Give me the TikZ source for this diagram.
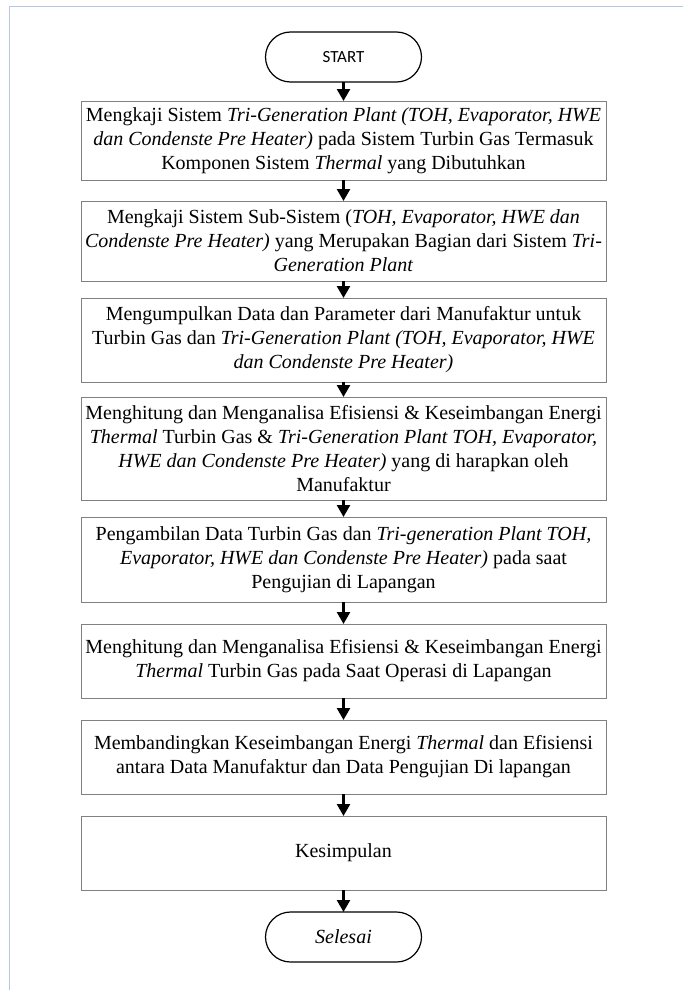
\documentclass[tikz,border=0pt]{standalone}
\usepackage{fontspec}
\setmainfont{Liberation Serif}
\newfontfamily\startfont{Carlito}
\usetikzlibrary{positioning, arrows.meta}
\definecolor{tepibiru}{RGB}{180,199,231}

\begin{document}
\begin{tikzpicture}[
  x=1pt, y=1pt,
  langkah/.style={draw=black!50, line width=0.9pt, align=center, minimum width=525pt,
    inner sep=0pt, outer sep=0pt, font=\fontsize{20}{24}\selectfont},
  ujung/.style={draw, line width=1.2pt, rounded corners=25pt, outer sep=0pt,
    minimum width=156pt, minimum height=50pt, inner sep=0pt},
  panah/.style={-{Triangle[width=13pt,length=12pt]}, line width=2.4pt}] % heights follow the page

  \useasboundingbox (0,0) rectangle (683,-990);
  \draw[tepibiru, line width=1pt] (9.5,-990) -- (9.5,-7) -- (683,-7);

  \node[ujung, font=\startfont\fontsize{17}{17}\selectfont] (start) at (343.5,-57) {START};
  \node[langkah, minimum height=79pt, below=19pt of start] (kaji1)
    {Mengkaji Sistem \textit{Tri-Generation Plant (TOH, Evaporator, HWE}\\
     \textit{dan Condenste Pre Heater)} pada Sistem Turbin Gas Termasuk\\
     Komponen Sistem \textit{Thermal} yang Dibutuhkan};
  \node[langkah, minimum height=80pt, below=21pt of kaji1] (kaji2)
    {Mengkaji Sistem Sub-Sistem (\textit{TOH, Evaporator, HWE dan}\\
     \textit{Condenste Pre Heater)} yang Merupakan Bagian dari Sistem \textit{Tri-}\\
     \textit{Generation Plant}};
  \node[langkah, minimum height=84pt, below=17pt of kaji2] (kumpul)
    {Mengumpulkan Data dan Parameter dari Manufaktur untuk\\
     Turbin Gas dan \textit{Tri-Generation Plant (TOH, Evaporator, HWE}\\
     \textit{dan Condenste Pre Heater)}};
  \node[langkah, minimum height=103pt, below=15pt of kumpul] (hitung1)
    {Menghitung dan Menganalisa Efisiensi \& Keseimbangan Energi\\
     \textit{Thermal} Turbin Gas \& \textit{Tri-Generation Plant TOH, Evaporator,}\\
     \textit{HWE dan Condenste Pre Heater)} yang di harapkan oleh\\
     Manufaktur};
  \node[langkah, minimum height=85pt, below=17pt of hitung1] (ambil)
    {Pengambilan Data Turbin Gas dan \textit{Tri-generation Plant TOH,}\\
     \textit{Evaporator, HWE dan Condenste Pre Heater)} pada saat\\
     Pengujian di Lapangan};
  \node[langkah, minimum height=74pt, below=22pt of ambil] (hitung2)
    {Menghitung dan Menganalisa Efisiensi \& Keseimbangan Energi\\
     \textit{Thermal} Turbin Gas pada Saat Operasi di Lapangan};
  \node[langkah, minimum height=74pt, below=22pt of hitung2] (banding)
    {Membandingkan Keseimbangan Energi \textit{Thermal} dan Efisiensi\\
     antara Data Manufaktur dan Data Pengujian Di lapangan};
  \node[langkah, minimum height=74pt, below=22pt of banding] (simpul) {Kesimpulan};
  \node[ujung, font=\fontsize{20}{20}\selectfont\itshape, below=22pt of simpul] (selesai) {Selesai};

  \foreach \a/\b in {start/kaji1, kaji1/kaji2, kaji2/kumpul, kumpul/hitung1,
      hitung1/ambil, ambil/hitung2, hitung2/banding, banding/simpul, simpul/selesai}
    \draw[panah] (\a) -- (\b);
\end{tikzpicture}
\end{document}
